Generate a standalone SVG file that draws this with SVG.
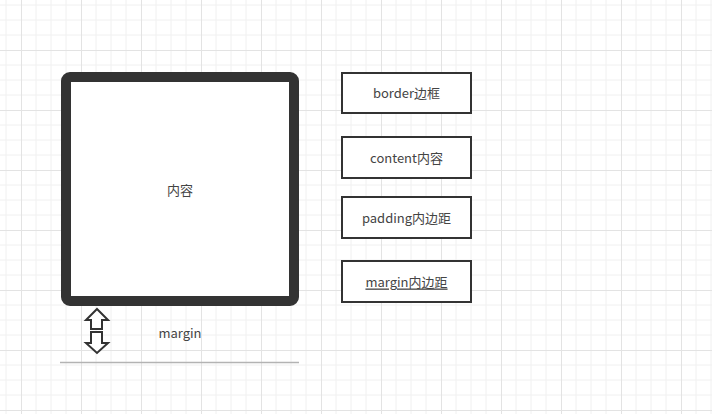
<svg xmlns="http://www.w3.org/2000/svg" width="712" height="414" viewBox="0 0 712 414">
<defs>
<pattern id="grid" x="21" y="50" width="60" height="60" patternUnits="userSpaceOnUse">
<path d="M15 0V60M30 0V60M45 0V60M0 15H60M0 30H60M0 45H60" stroke="#f0f0f0" stroke-width="1" fill="none"/>
<path d="M0.5 0V60M0 0.5H60" stroke="#e3e3e3" stroke-width="1" fill="none"/>
</pattern>
<style>
.lbl{font-family:"Noto Sans CJK SC","Noto Sans",sans-serif;font-size:13px;fill:#444;text-anchor:middle;dominant-baseline:central}
.box{fill:#fff;stroke:#333;stroke-width:2}
.arr{fill:#fff;stroke:#333;stroke-width:2;stroke-linejoin:miter}
</style>
</defs>
<rect width="712" height="414" fill="#fff"/>
<rect width="712" height="414" fill="url(#grid)"/>
<g id="main-box">
<rect x="66" y="77" width="228" height="224" rx="4" fill="#fff" stroke="#333" stroke-width="10"/>
<text class="lbl" x="180" y="189">内容</text>
</g>
<g id="margin-arrow">
<polygon class="arr" points="97,309 108,320 102,320 102,329 91,329 91,320 86,320"/>
<polygon class="arr" points="91,332 102,332 102,343 108,343 97,353 86,343 91,343"/>
</g>
<g id="margin-label">
<text class="lbl" x="180" y="332.5">margin</text>
</g>
<g id="margin-line">
<line x1="60" y1="362.5" x2="299" y2="362.5" stroke="#b3b3b3" stroke-width="1.5"/>
</g>
<g id="box-border">
<rect class="box" x="342" y="73" width="129" height="40"/>
<text class="lbl" x="406.5" y="92.5">border边框</text>
</g>
<g id="box-content">
<rect class="box" x="342" y="137" width="129" height="41"/>
<text class="lbl" x="406.5" y="157">content内容</text>
</g>
<g id="box-padding">
<rect class="box" x="342" y="197" width="129" height="41"/>
<text class="lbl" x="406.5" y="217">padding内边距</text>
</g>
<g id="box-margin">
<rect class="box" x="342" y="261" width="129" height="41"/>
<text class="lbl" x="406.5" y="281" text-decoration="underline">margin内边距</text>
</g>
<g id="connectors"></g>
</svg>
